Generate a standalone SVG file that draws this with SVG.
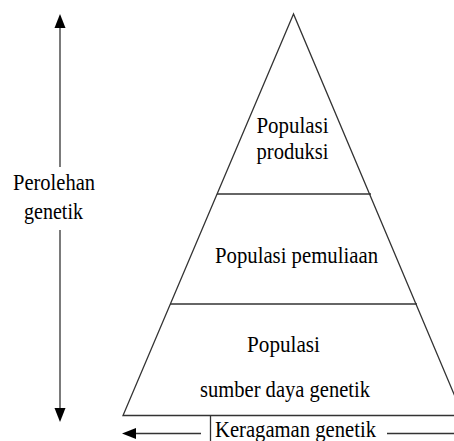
<svg xmlns="http://www.w3.org/2000/svg" width="454" height="441" viewBox="0 0 454 441">
<style>
text{font-family:"Liberation Serif","Times New Roman",serif;font-size:24px;fill:#000}
.ln{stroke:#333;stroke-width:1.3;fill:none}
.ar{fill:#000;stroke:none}
</style>
<rect width="454" height="441" fill="#fff"/>
<g id="pyramid">
<polygon class="ln" points="293.5,14 123,415.5 463,415.5"/>
</g>
<g id="top-tier">
<line class="ln" x1="217" y1="194" x2="371" y2="194"/>
<text x="256.5" y="133" textLength="72" lengthAdjust="spacingAndGlyphs">Populasi</text>
<text x="256.5" y="159" textLength="72" lengthAdjust="spacingAndGlyphs">produksi</text>
</g>
<g id="middle-tier">
<line class="ln" x1="170" y1="304" x2="417" y2="304"/>
<text x="215" y="263" textLength="163" lengthAdjust="spacingAndGlyphs">Populasi pemuliaan</text>
</g>
<g id="bottom-tier">
<text x="247" y="352" textLength="73" lengthAdjust="spacingAndGlyphs">Populasi</text>
<text x="200" y="397" textLength="170" lengthAdjust="spacingAndGlyphs">sumber daya genetik</text>
</g>
<g id="connectors">
<line class="ln" x1="60" y1="26" x2="60" y2="167"/>
<line class="ln" x1="60" y1="230" x2="60" y2="409"/>
<polygon class="ar" points="60,14 54.5,28 65.5,28"/>
<polygon class="ar" points="60,422 54.5,408 65.5,408"/>
<line class="ln" x1="134" y1="433.5" x2="201" y2="433.5"/>
<polygon class="ar" points="122,433.5 136,428 136,439"/>
<line class="ln" x1="387" y1="433.5" x2="454" y2="433.5"/>
<line class="ln" x1="210.5" y1="415.5" x2="210.5" y2="441"/>
</g>
<g id="label-perolehan">
<text x="13" y="190" textLength="82" lengthAdjust="spacingAndGlyphs">Perolehan</text>
<text x="24" y="219" textLength="59" lengthAdjust="spacingAndGlyphs">genetik</text>
</g>
<g id="label-keragaman">
<text x="215" y="437" textLength="161" lengthAdjust="spacingAndGlyphs">Keragaman genetik</text>
</g>
</svg>
